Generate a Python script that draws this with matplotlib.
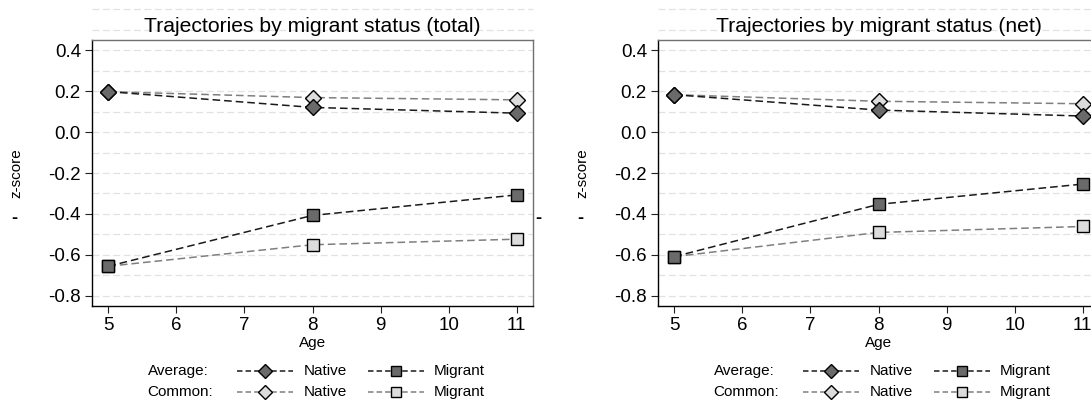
import matplotlib
matplotlib.use("Agg")
import matplotlib.pyplot as plt
from matplotlib.lines import Line2D

plt.rcParams['font.family'] = ['Liberation Sans', 'DejaVu Sans']

# ---------------- data ----------------
ages = [5, 8, 11]
panel_titles = ["Trajectories by migrant status (total)",
                "Trajectories by migrant status (net)"]

total_avg_native = [0.197, 0.120, 0.092]
total_avg_migrant = [-0.655, -0.407, -0.307]
total_com_native = [0.197, 0.168, 0.157]
total_com_migrant = [-0.655, -0.550, -0.523]

net_avg_native = [0.182, 0.107, 0.078]
net_avg_migrant = [-0.608, -0.353, -0.254]
net_com_native = [0.182, 0.150, 0.138]
net_com_migrant = [-0.608, -0.490, -0.461]

xticks = [5, 6, 7, 8, 9, 10, 11]
yticks = [-0.8, -0.6, -0.4, -0.2, 0.0, 0.2, 0.4]
ytick_labels = ["-0.8", "-0.6", "-0.4", "-0.2", "0.0", "0.2", "0.4"]
grid_levels = [-0.8, -0.7, -0.6, -0.5, -0.4, -0.3, -0.2, -0.1, 0.0, 0.1, 0.2, 0.3, 0.4, 0.5, 0.6]

legend_rows = ["Average:", "Common:"]
legend_groups = ["Native", "Migrant"]

# ---------------- style ----------------
W, H = 1091, 401
DARK = '#6a6a6a'
LIGHT = '#dcdcdc'
AVG_LINE = '#1a1a1a'
COM_LINE = '#7f7f7f'
GRID = '#e2e2e2'
DASH = (5, 2.6)
MS_D = 8.0
MS_S = 8.6

fig = plt.figure(figsize=(W / 100, H / 100), dpi=100)
fig.patch.set_facecolor('white')


def fx(x):
    return x / W


def fy(y):
    return 1 - y / H


panels = [
    (total_avg_native, total_avg_migrant, total_com_native, total_com_migrant),
    (net_avg_native, net_avg_migrant, net_com_native, net_com_migrant),
]

offset = 566
for i, (an, am, cn, cm) in enumerate(panels):
    ox = i * offset
    left, right = 92 + ox, 533 + ox
    top, bottom = 40, 306
    ax = fig.add_axes([fx(left), fy(bottom), (right - left) / W, (bottom - top) / H])
    ax.set_xlim(4.76, 11.24)
    ax.set_ylim(-0.849, 0.449)

    for g in grid_levels:
        ax.axhline(g, color=GRID, lw=0.9, dashes=(5.5, 2.8), zorder=0, clip_on=False)

    # common (gray) first, average (black) on top
    ax.plot(ages, cn, color=COM_LINE, lw=1.1, dashes=DASH, marker='D', ms=MS_D,
            mfc=LIGHT, mec='black', mew=1.0, zorder=3)
    ax.plot(ages, cm, color=COM_LINE, lw=1.1, dashes=DASH, marker='s', ms=MS_S,
            mfc=LIGHT, mec='black', mew=1.0, zorder=3)
    ax.plot(ages, an, color=AVG_LINE, lw=1.1, dashes=DASH, marker='D', ms=MS_D,
            mfc=DARK, mec='black', mew=1.0, zorder=4)
    ax.plot(ages, am, color=AVG_LINE, lw=1.1, dashes=DASH, marker='s', ms=MS_S,
            mfc=DARK, mec='black', mew=1.0, zorder=4)

    ax.set_xticks(xticks)
    ax.set_xticklabels([str(t) for t in xticks])
    ax.set_yticks(yticks)
    ax.set_yticklabels(ytick_labels)
    ax.tick_params(axis='both', direction='out', length=5, width=0.8,
                   color='#222222', labelsize=13.5, pad=3)
    for s in ['left', 'bottom']:
        ax.spines[s].set_color('black')
        ax.spines[s].set_linewidth(1.0)
    for s in ['top', 'right']:
        ax.spines[s].set_color('#707070')
        ax.spines[s].set_linewidth(1.0)

    # title
    cx = (left + right) / 2
    fig.text(fx(cx), fy(32), panel_titles[i], ha='center', va='baseline', fontsize=15.2)
    # axis labels
    fig.text(fx(cx), fy(346.5), "Age", ha='center', va='baseline', fontsize=11)
    fig.text(fx(16 + ox), fy(173), "z-score", ha='center', va='center',
             rotation=90, fontsize=11)
    # small dash marks seen beside the panels
    fig.text(fx(14 + ox), fy(219), "-", ha='center', va='center', fontsize=13, fontweight='bold')
    if i == 0:
        fig.text(fx(538 + ox), fy(219), "-", ha='center', va='center', fontsize=13, fontweight='bold')

    # legend
    rows_y = [370.7, 392.3]
    styles = [
        [(AVG_LINE, DARK, 'D', MS_D), (AVG_LINE, DARK, 's', MS_S)],
        [(COM_LINE, LIGHT, 'D', MS_D), (COM_LINE, LIGHT, 's', MS_S)],
    ]
    sym_x = [(237, 293), (368, 424)]
    lab_x = [304, 434]
    for r, ry in enumerate(rows_y):
        fig.text(fx(147.7 + ox), fy(ry), legend_rows[r], ha='left', va='center', fontsize=11)
        for k in range(2):
            lc, fc, mk, ms = styles[r][k]
            x0, x1 = sym_x[k]
            xs = [fx(x0 + ox), fx((x0 + x1) / 2 + ox), fx(x1 + ox)]
            ys = [fy(ry)] * 3
            ln = Line2D(xs, ys, transform=fig.transFigure, color=lc, lw=1.1,
                        dashes=(3.6, 2.0), marker=mk, ms=ms * 0.9, markevery=[1],
                        mfc=fc, mec='black', mew=1.0)
            fig.add_artist(ln)
            fig.text(fx(lab_x[k] + ox), fy(ry), legend_groups[k], ha='left',
                     va='center', fontsize=11)

fig.savefig("out.png", dpi=100, facecolor='white')
